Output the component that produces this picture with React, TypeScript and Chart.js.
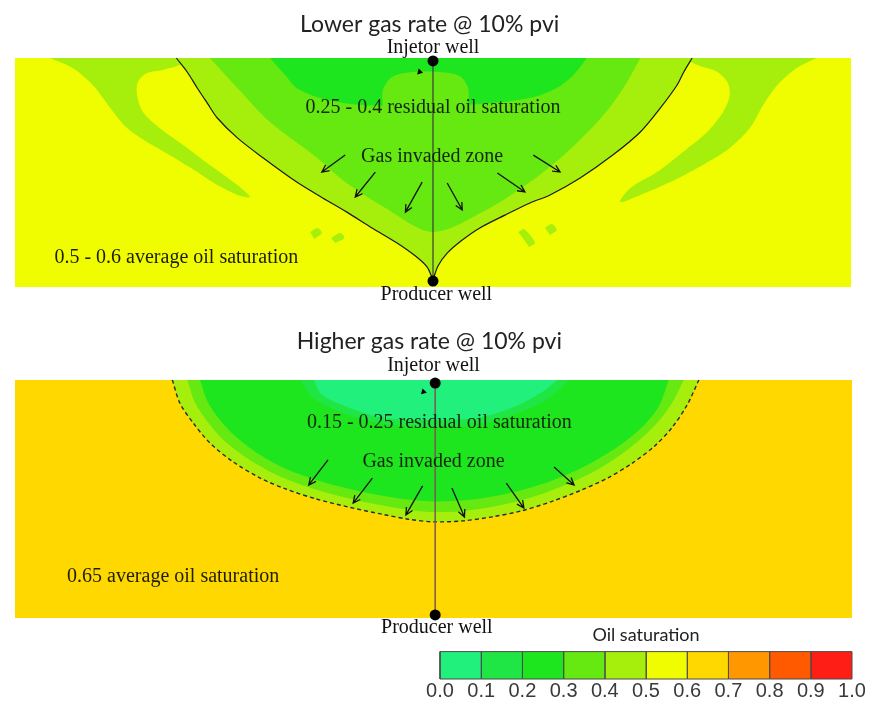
import React, { useEffect, useRef } from 'react';
import { Chart, registerables } from 'chart.js';

Chart.register(...registerables);

// ---------- Colour bar (oil saturation classes) ----------
const saturationEdges = [0, 0.1, 0.2, 0.3, 0.4, 0.5, 0.6, 0.7, 0.8, 0.9, 1.0];
const saturationColors = ['#22f07c', '#20e645', '#1ee61e', '#66e811', '#a6ef0c', '#f0fd00', '#ffd800', '#ff9800', '#ff5a00', '#ff1e16'];
const saturationTickLabels = ['0.0', '0.1', '0.2', '0.3', '0.4', '0.5', '0.6', '0.7', '0.8', '0.9', '1.0'];

// ---------- Section coordinates: x = % of section width (wells at 50), y = % of thickness (down) ----------
// Lower gas rate section
const topBackground = [[0, 0], [100, 0], [100, 100], [0, 100], [0, 0]];
const topLeftBand = [[4.2, 0], [6.9, 4.4], [9.3, 11.8], [11.4, 21.8], [13.4, 30.6], [15.8, 36.7], [18.5, 42.4], [21.8, 49.8], [24.2, 55.5], [26.6, 59.8], [28.1, 60.7], [26.6, 55.5], [23.3, 46.7], [20.1, 38.0], [17.3, 30.6], [15.3, 23.6], [14.6, 16.2], [14.7, 10.5], [15.8, 6.6], [17.7, 5.2], [19.7, 3.1], [21.0, 0]];
const topRightBand = [[95.9, 0], [93.5, 4.4], [91.2, 11.8], [89.5, 20.5], [87.9, 30.6], [85.5, 39.3], [82.3, 46.7], [78.4, 54.2], [74.8, 59.8], [72.4, 62.9], [73.6, 56.8], [76.8, 49.8], [79.9, 41.0], [82.8, 32.3], [84.7, 23.6], [85.5, 16.2], [85.2, 10.5], [84.0, 6.1], [81.6, 3.1], [80.0, 0]];
const topBlobA = [[35.3, 76.0], [36.2, 74.2], [36.7, 76.4], [35.8, 79.0]];
const topBlobB = [[37.8, 78.6], [38.9, 76.4], [39.4, 78.6], [38.3, 80.8]];
const topBlobC = [[60.2, 76.0], [60.9, 74.7], [62.2, 80.8], [61.5, 82.5]];
const topBlobD = [[63.4, 74.2], [64.2, 72.5], [64.8, 75.1], [64.0, 77.3]];
const topFrontLeft = [[19.3, 0], [20.6, 6.1], [21.8, 13.1], [23.0, 19.7], [24.2, 26.2], [26.6, 34.9], [29.7, 43.7], [33.7, 54.2], [36.8, 61.1], [39.7, 67.3], [42.7, 74.2], [45.7, 80.8], [47.9, 86.5], [49.3, 91.3], [50.0, 96.9]];
const topFrontRight = [[81.0, 0], [80.0, 6.1], [79.2, 11.8], [77.2, 21.8], [74.8, 32.3], [71.5, 42.4], [67.6, 52.4], [64.0, 59.8], [61.6, 63.3], [58.6, 68.6], [55.6, 74.2], [53.5, 79.5], [51.7, 85.2], [50.6, 90.8], [50.0, 96.9]];
const topMid = [[23.3, 0], [26.6, 13.1], [30.5, 28.0], [35.7, 42.4], [39.5, 54.2], [44.3, 65.5], [50.0, 76.0], [56.8, 65.5], [61.6, 54.2], [65.4, 43.2], [68.4, 32.8], [70.9, 22.7], [73.0, 11.8], [74.8, 0]];
const topCore = [[30.5, 0], [32.3, 7.4], [33.7, 13.1], [36.5, 17.5], [40.1, 20.1], [44.9, 21.0], [50.0, 21.0], [55.6, 20.1], [61.6, 17.5], [64.8, 13.1], [66.8, 7.4], [68.4, 0]];
const topCoreBump = [[44.0, 21.0], [44.0, 14.0], [45.1, 8.3], [47.5, 6.1], [50.8, 6.1], [53.2, 7.9], [54.2, 13.1], [54.2, 21.0]];
const topWell = [[50, 1.3], [50, 97.4]];
const topArrows = [[39.5, 42.4, 36.7, 49.8], [43.1, 49.8, 40.7, 60.7], [48.7, 54.2, 46.7, 67.3], [51.7, 54.6, 53.5, 66.4], [57.7, 50.2, 61.0, 58.5], [62.0, 42.4, 65.2, 49.8]];
const topMarker = [[48.4, 6.1]];

// Higher gas rate section
const bottomBackground = [[0, 0], [100, 0], [100, 100], [0, 100], [0, 0]];
const bottomFront = [[18.8, 0], [19.7, 9.7], [21.3, 18.1], [23.3, 26.5], [26.1, 34.5], [29.3, 41.2], [32.5, 46.0], [36.0, 50.0], [40.0, 53.5], [44.0, 56.5], [47.0, 58.5], [50.0, 59.6], [53.5, 59.2], [57.0, 57.5], [60.5, 55.0], [64.0, 51.2], [67.5, 46.5], [70.8, 41.2], [73.8, 34.8], [76.4, 27.8], [78.5, 20.0], [80.3, 10.5], [81.7, 0]];
const bottomRing = [[20.6, 0], [21.5, 9.5], [23.0, 17.5], [25.0, 25.5], [27.8, 33.0], [30.9, 39.3], [34.0, 43.8], [37.5, 47.6], [41.2, 50.8], [44.8, 53.3], [47.5, 54.8], [50.0, 55.5], [53.3, 55.1], [56.6, 53.6], [59.8, 51.2], [63.2, 47.6], [66.4, 43.1], [69.4, 38.0], [72.2, 31.8], [74.7, 24.9], [76.9, 17.3], [78.6, 9.0], [79.9, 0]];
const bottomMain = [[22.1, 0], [23.0, 9.0], [24.5, 16.8], [26.6, 24.5], [29.3, 31.5], [32.4, 37.4], [35.6, 41.6], [39.0, 45.0], [42.6, 47.8], [46.0, 49.8], [50.0, 51.0], [54.0, 50.4], [57.6, 48.6], [60.8, 46.0], [64.2, 42.2], [67.3, 37.6], [70.2, 32.0], [72.9, 25.8], [75.3, 18.5], [77.0, 10.5], [78.1, 0]];
const bottomInner = [[34.1, 0], [35.5, 7.1], [38.9, 13.5], [43.7, 18.1], [49.6, 19.8], [55.6, 18.5], [60.2, 13.9], [63.8, 7.6], [66.2, 0]];
const bottomCore = [[35.7, 0], [36.7, 6.3], [39.7, 11.3], [43.7, 15.6], [49.6, 16.8], [55.6, 15.6], [59.6, 11.3], [62.8, 5.5], [64.8, 0]];
const bottomWell = [[50.2, 1.3], [50.2, 98.7]];
const bottomArrows = [[37.4, 33.6, 35.1, 44.1], [42.7, 41.2, 40.4, 51.7], [48.7, 44.5, 46.7, 56.7], [52.2, 45.4, 53.7, 57.6], [58.7, 43.3, 60.8, 53.8], [64.4, 36.6, 66.8, 44.1]];
const bottomMarker = [[48.8, 5.0]];

// Text annotations
const topLabels = [
  { text: 'Lower gas rate @ 10% pvi', x: 49.6, y: -14.8, kind: 'title' },
  { text: 'Injetor well', x: 50, y: -4.4, kind: 'well' },
  { text: '0.25 - 0.4 residual oil saturation', x: 50, y: 21.8, kind: 'zone' },
  { text: 'Gas invaded zone', x: 49.9, y: 43.2, kind: 'zone' },
  { text: '0.5 - 0.6 average oil saturation', x: 19.3, y: 87.3, kind: 'avg' },
  { text: 'Producer well', x: 50.4, y: 103.2, kind: 'well' },
];
const bottomLabels = [
  { text: 'Higher gas rate @ 10% pvi', x: 49.5, y: -16.0, kind: 'title' },
  { text: 'Injetor well', x: 50, y: -5.9, kind: 'well' },
  { text: '0.15 - 0.25 residual oil saturation', x: 50.7, y: 18.1, kind: 'zone' },
  { text: 'Gas invaded zone', x: 50, y: 34.5, kind: 'zone' },
  { text: '0.65 average oil saturation', x: 18.9, y: 82.8, kind: 'avg' },
  { text: 'Producer well', x: 50.4, y: 104.2, kind: 'well' },
];

// ---------- styling ----------
const SERIF = '"Liberation Serif", "Times New Roman", serif';
const SANS = 'Lato, "Open Sans", sans-serif';
const labelStyles: Record<string, { font: string; color: string }> = {
  title: { font: `23px ${SANS}`, color: '#222222' },
  well: { font: `20px ${SERIF}`, color: '#111111' },
  zone: { font: `20px ${SERIF}`, color: '#13260c' },
  avg: { font: `20px ${SERIF}`, color: '#1e1e08' },
};

const xy = (arr: number[][]) => arr.map(([x, y]) => ({ x, y }));

function fillLayer(points: number[][], level: number) {
  return {
    type: 'line',
    data: xy(points),
    backgroundColor: saturationColors[level],
    borderWidth: 0,
    pointRadius: 0,
    fill: 'shape',
    tension: 0.3,
  };
}

function strokeLayer(points: number[][], color: string, width: number, dash: number[] = [], tension = 0.3) {
  return {
    type: 'line',
    data: xy(points),
    borderColor: color,
    borderWidth: width,
    borderDash: dash,
    pointRadius: 0,
    fill: false,
    tension,
    clip: false,
  };
}

function dotLayer(points: number[][], radius: number, style = 'circle', rotation = 0) {
  return {
    type: 'scatter',
    data: xy(points),
    pointRadius: radius,
    pointStyle: style,
    rotation,
    backgroundColor: '#000000',
    borderColor: '#000000',
    borderWidth: 0,
    clip: false,
  };
}

function annotationPlugin(labels: typeof topLabels, arrows: number[][]) {
  return {
    id: 'annotations',
    afterDatasetsDraw(chart: any) {
      const { ctx } = chart;
      const xs = chart.scales.x;
      const ys = chart.scales.y;
      ctx.save();
      ctx.strokeStyle = '#111111';
      ctx.lineWidth = 1.3;
      arrows.forEach(([x0, y0, x1, y1]) => {
        const ax = xs.getPixelForValue(x0);
        const ay = ys.getPixelForValue(y0);
        const bx = xs.getPixelForValue(x1);
        const by = ys.getPixelForValue(y1);
        const a = Math.atan2(by - ay, bx - ax);
        const h = 8;
        const w = 0.45;
        ctx.beginPath();
        ctx.moveTo(ax, ay);
        ctx.lineTo(bx, by);
        ctx.moveTo(bx - h * Math.cos(a - w), by - h * Math.sin(a - w));
        ctx.lineTo(bx, by);
        ctx.lineTo(bx - h * Math.cos(a + w), by - h * Math.sin(a + w));
        ctx.stroke();
      });
      ctx.textAlign = 'center';
      ctx.textBaseline = 'middle';
      labels.forEach((l) => {
        const st = labelStyles[l.kind];
        ctx.font = st.font;
        ctx.fillStyle = st.color;
        ctx.fillText(l.text, xs.getPixelForValue(l.x), ys.getPixelForValue(l.y));
      });
      ctx.restore();
    },
  };
}

function withOrder(datasets: any[]) {
  const n = datasets.length;
  return datasets.map((d, i) => ({ ...d, order: n - i }));
}

function sectionConfig(datasets: any[], labels: typeof topLabels, arrows: number[][], padding: any) {
  return {
    type: 'scatter',
    data: { datasets: withOrder(datasets) },
    options: {
      animation: false,
      responsive: false,
      maintainAspectRatio: false,
      events: [],
      layout: { padding },
      scales: {
        x: { type: 'linear', min: 0, max: 100, display: false },
        y: { type: 'linear', min: 0, max: 100, reverse: true, display: false },
      },
      plugins: { legend: { display: false }, tooltip: { enabled: false }, title: { display: false } },
    },
    plugins: [annotationPlugin(labels, arrows)],
  } as any;
}

function colorBarConfig() {
  const cells = saturationColors.map((c, i) => ({
    type: 'line',
    data: xy([
      [saturationEdges[i], 0],
      [saturationEdges[i + 1], 0],
      [saturationEdges[i + 1], 1],
      [saturationEdges[i], 1],
      [saturationEdges[i], 0],
    ]),
    backgroundColor: c,
    borderColor: '#4a4a4a',
    borderWidth: 1,
    pointRadius: 0,
    fill: 'shape',
    tension: 0,
    clip: false,
  }));
  return {
    type: 'scatter',
    data: { datasets: cells },
    options: {
      animation: false,
      responsive: false,
      maintainAspectRatio: false,
      events: [],
      layout: { padding: { left: 20, right: 18, top: 10, bottom: 0 } },
      scales: {
        x: {
          type: 'linear',
          min: 0,
          max: 1,
          grid: { display: false, drawTicks: false },
          border: { display: false },
          ticks: {
            stepSize: 0.1,
            autoSkip: false,
            maxRotation: 0,
            padding: 0,
            color: '#3a3a3a',
            font: { family: '"Liberation Sans", Arial, sans-serif', size: 20 },
            callback: (_v: any, i: number) => saturationTickLabels[i],
          },
        },
        y: { type: 'linear', min: 0, max: 1, display: false },
      },
      plugins: {
        legend: { display: false },
        tooltip: { enabled: false },
        title: {
          display: true,
          text: 'Oil saturation',
          color: '#222222',
          font: { family: SANS, size: 18, weight: 'normal' },
          padding: { top: 0, bottom: 6 },
        },
      },
    },
  } as any;
}

export default function App() {
  const topRef = useRef<HTMLCanvasElement>(null);
  const bottomRef = useRef<HTMLCanvasElement>(null);
  const barRef = useRef<HTMLCanvasElement>(null);

  useEffect(() => {
    const topDatasets = [
      fillLayer(topBackground, 5),
      fillLayer(topLeftBand, 4),
      fillLayer(topRightBand, 4),
      fillLayer(topBlobA, 4),
      fillLayer(topBlobB, 4),
      fillLayer(topBlobC, 4),
      fillLayer(topBlobD, 4),
      fillLayer([...topFrontLeft, ...topFrontRight.slice(0, -1).reverse()], 4),
      fillLayer(topMid, 3),
      fillLayer(topCore, 2),
      fillLayer(topCoreBump, 3),
      strokeLayer(topFrontLeft, '#1a1a1a', 1.2),
      strokeLayer(topFrontRight, '#1a1a1a', 1.2),
      strokeLayer(topWell, '#3a3a3a', 1.2, [], 0),
      dotLayer(topWell, 5.5),
      dotLayer(topMarker, 3.5, 'triangle', 225),
    ];
    const bottomDatasets = [
      fillLayer(bottomBackground, 6),
      fillLayer(bottomFront, 4),
      fillLayer(bottomRing, 3),
      fillLayer(bottomMain, 2),
      fillLayer(bottomInner, 1),
      fillLayer(bottomCore, 0),
      strokeLayer(bottomFront, '#2a2a2a', 1.4, [4, 3]),
      strokeLayer(bottomWell, '#7a5a50', 1.5, [], 0),
      dotLayer(bottomWell, 5.5),
      dotLayer(bottomMarker, 3.5, 'triangle', 225),
    ];
    const charts = [
      new Chart(topRef.current!, sectionConfig(topDatasets, topLabels, topArrows, { left: 15, right: 19, top: 58, bottom: 23 })),
      new Chart(bottomRef.current!, sectionConfig(bottomDatasets, bottomLabels, bottomArrows, { left: 15, right: 18, top: 60, bottom: 32 })),
      new Chart(barRef.current!, colorBarConfig()),
    ];
    return () => charts.forEach((c) => c.destroy());
  }, []);

  return (
    <div style={{ position: 'fixed', left: 0, top: 0, width: 870, height: 704, background: '#ffffff', overflow: 'hidden' }}>
      <canvas ref={topRef} width={870} height={310} style={{ position: 'absolute', left: 0, top: 0 }} />
      <canvas ref={bottomRef} width={870} height={330} style={{ position: 'absolute', left: 0, top: 320 }} />
      <canvas ref={barRef} width={450} height={89} style={{ position: 'absolute', left: 420, top: 614 }} />
    </div>
  );
}
